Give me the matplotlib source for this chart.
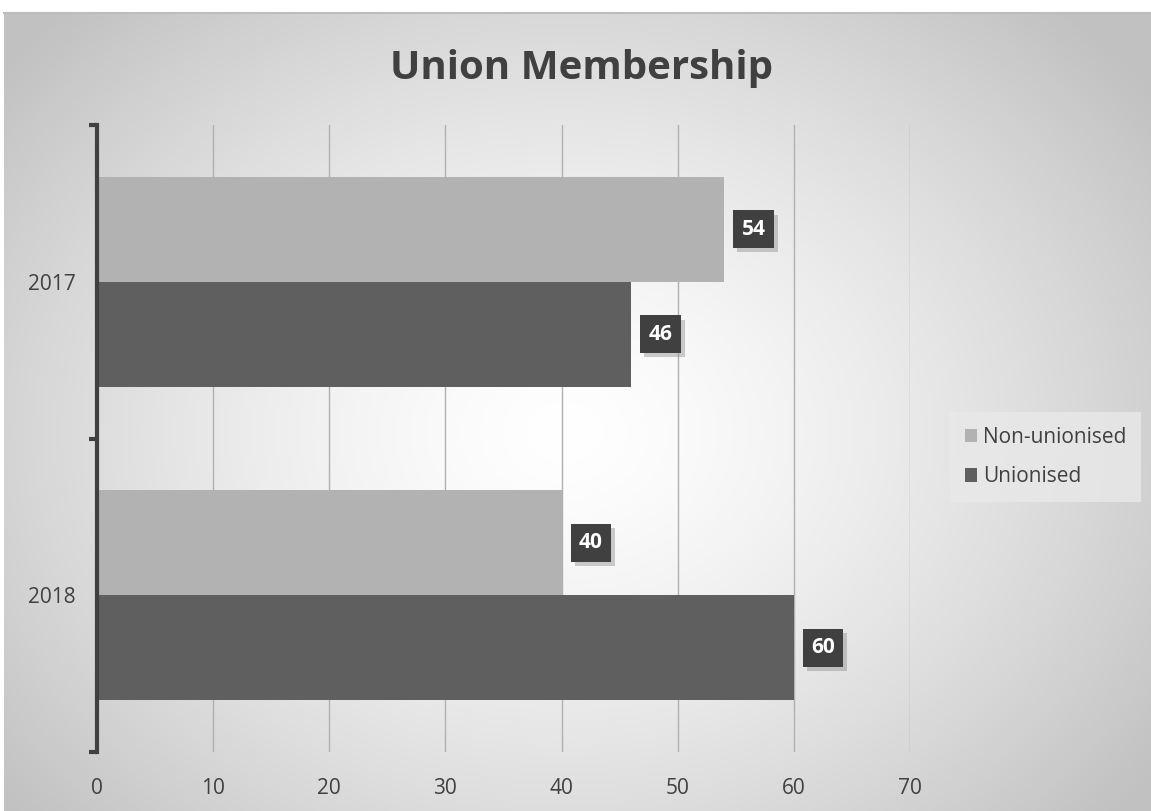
import numpy as np
import matplotlib.pyplot as plt
import matplotlib.patheffects as pe

plt.rcParams['font.family'] = ['Open Sans', 'DejaVu Sans']

years = ['2017', '2018']
series = ['Non-unionised', 'Unionised']
non_unionised = [54, 40]
unionised = [46, 60]
colors = ['#b2b2b2', '#5f5f5f']

fig = plt.figure(figsize=(11.51, 8.11), dpi=100)

# radial background
bg = fig.add_axes([4/1151, 0, 1 - 4/1151, 1 - 13/811], zorder=-10)
yy, xx = np.mgrid[0:800, 0:1147]
r = np.sqrt(((xx - 560) / 720.0) ** 2 + ((yy - 420) / 580.0) ** 2)
shade = np.clip(1.0 - 0.24 * r ** 1.4, 0.76, 1.0)
bg.imshow(np.dstack([shade] * 3), aspect='auto', interpolation='bilinear')
bg.axis('off')
fig.add_artist(plt.Line2D([4/1151, 1], [1 - 13/811, 1 - 13/811], color='#bdbdbd', lw=1.5))

ax = fig.add_axes([97/1151, 1 - 752/811, (910 - 97)/1151, (752 - 125)/811])
ax.patch.set_alpha(0)

y = np.arange(len(years))
h = 0.335
b1 = ax.barh(y - h/2, non_unionised, height=h, color=colors[0], label=series[0], zorder=3)
b2 = ax.barh(y + h/2, unionised, height=h, color=colors[1], label=series[1], zorder=3)

ax.set_xlim(0, 70)
ax.set_ylim(1.5, -0.5)
ax.set_xticks(np.arange(0, 80, 10))
ax.xaxis.grid(True, color='#b0b0b0', lw=1.0, zorder=0)
ax.tick_params(axis='x', length=0, labelsize=15, labelcolor='#404040', pad=19)

ax.set_yticks([-0.5, 0.5, 1.5])
ax.set_yticklabels([])
ax.set_yticks(y, minor=True)
ax.set_yticklabels(years, minor=True)
ax.tick_params(axis='y', which='major', length=6, width=3, color='#404040', direction='out')
ax.tick_params(axis='y', which='minor', length=0, labelsize=15, labelcolor='#404040', pad=15.5)

for s in ['top', 'right', 'bottom']:
    ax.spines[s].set_visible(False)
ax.spines['left'].set_color('#404040')
ax.spines['left'].set_linewidth(3)
ax.spines['left'].set_zorder(5)

for bars in (b1, b2):
    for bar in bars:
        v = bar.get_width()
        t = ax.annotate('%d' % v, (v, bar.get_y() + bar.get_height()/2),
                        xytext=(12.5, 0), textcoords='offset points',
                        ha='left', va='center', color='white', fontsize=15, fontweight='bold',
                        bbox=dict(boxstyle='square,pad=0.4', fc='#404040', ec='none'), zorder=6)
        t.get_bbox_patch().set_path_effects([pe.SimplePatchShadow(offset=(3, -3), shadow_rgbFace='#909090', alpha=0.45), pe.Normal()])

leg = fig.legend(loc='center left', bbox_to_anchor=(950/1151, 1 - 457/811), frameon=True,
                 fontsize=15, handlelength=0.6, handleheight=0.6, handletextpad=0.3,
                 labelspacing=0.9, borderpad=0.7, borderaxespad=0, fancybox=False)
leg.get_frame().set_facecolor('#e9e9e9')
leg.get_frame().set_edgecolor('none')
for t in leg.get_texts():
    t.set_color('#404040')

fig.text(581/1151, 1 - 68/811, 'Union Membership', ha='center', va='center',
         fontsize=29, fontweight='bold', color='#404040')

plt.savefig('out.png', dpi=100)
